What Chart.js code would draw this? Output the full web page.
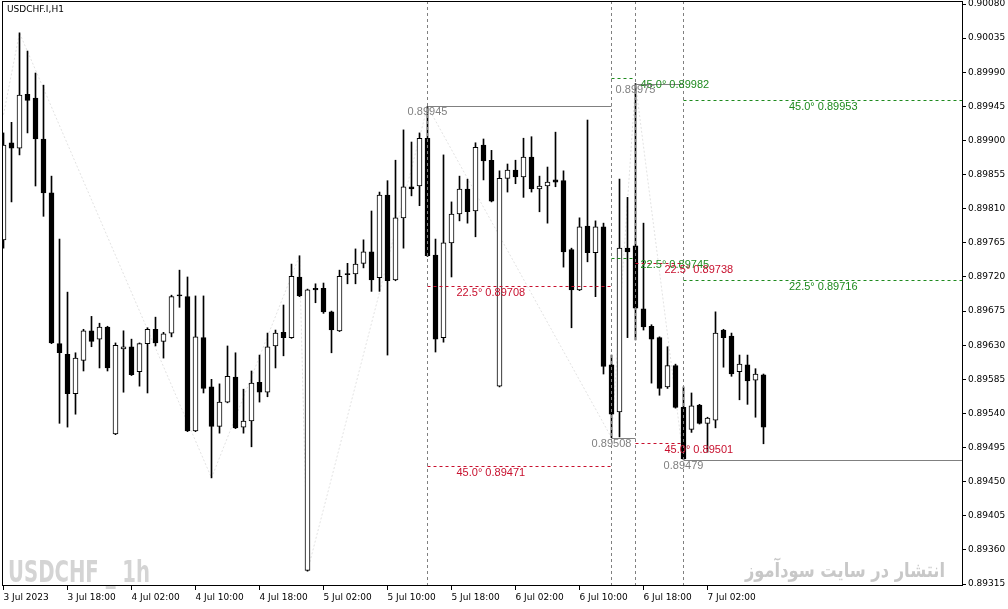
<!DOCTYPE html>
<html>
<head>
<meta charset="utf-8">
<script src="https://cdn.jsdelivr.net/npm/chart.js"></script>
<style>
  html, body { margin: 0; padding: 0; background: #fff; }
  #wrap { width: 1008px; height: 609px; }
</style>
</head>
<body>
<div id="wrap"><canvas id="chart" width="1008" height="609"></canvas></div>
<script>
// USDCHF.I H1 - one bar per hour, from 3 Jul 2023 10:00 to 7 Jul 2023 09:00
const opens = [
  0.89769, 0.89897, 0.89890, 0.89961, 0.89956, 0.89902, 0.89831, 0.89632, 0.89618, 0.89566,
  0.89610, 0.89649, 0.89638, 0.89654, 0.89513, 0.89625, 0.89628, 0.89595, 0.89632, 0.89651,
  0.89635, 0.89646, 0.89696, 0.89694, 0.89517, 0.89640, 0.89575, 0.89523, 0.89555, 0.89588,
  0.89522, 0.89530, 0.89581, 0.89568, 0.89629, 0.89647, 0.89640, 0.89720, 0.89333, 0.89705,
  0.89705, 0.89674, 0.89649, 0.89724, 0.89724, 0.89738, 0.89753, 0.89719, 0.89828, 0.89716,
  0.89798, 0.89839, 0.89840, 0.89903, 0.89749, 0.89640, 0.89765, 0.89803, 0.89836, 0.89807,
  0.89894, 0.89874, 0.89576, 0.89850, 0.89861, 0.89852, 0.89878, 0.89836, 0.89840, 0.89848,
  0.89847, 0.89756, 0.89703, 0.89787, 0.89752, 0.89786, 0.89604, 0.89542, 0.89758, 0.89761,
  0.89678, 0.89655, 0.89640, 0.89575, 0.89603, 0.89548, 0.89519, 0.89551, 0.89527, 0.89531,
  0.89650, 0.89642, 0.89595, 0.89604, 0.89584, 0.89591
];
const highs = [
  0.89910, 0.89924, 0.90042, 0.90018, 0.89989, 0.89973, 0.89853, 0.89770, 0.89700, 0.89620,
  0.89651, 0.89668, 0.89659, 0.89655, 0.89633, 0.89649, 0.89638, 0.89633, 0.89653, 0.89667,
  0.89647, 0.89696, 0.89729, 0.89720, 0.89695, 0.89695, 0.89585, 0.89579, 0.89629, 0.89620,
  0.89572, 0.89596, 0.89617, 0.89646, 0.89650, 0.89683, 0.89737, 0.89748, 0.89704, 0.89711,
  0.89712, 0.89675, 0.89729, 0.89738, 0.89757, 0.89769, 0.89807, 0.89832, 0.89847, 0.89874,
  0.89914, 0.89898, 0.89910, 0.89945, 0.89770, 0.89881, 0.89819, 0.89853, 0.89849, 0.89897,
  0.89902, 0.89887, 0.89860, 0.89869, 0.89874, 0.89903, 0.89905, 0.89853, 0.89865, 0.89911,
  0.89860, 0.89758, 0.89798, 0.89927, 0.89794, 0.89791, 0.89617, 0.89849, 0.89825, 0.89975,
  0.89791, 0.89657, 0.89641, 0.89628, 0.89605, 0.89575, 0.89567, 0.89552, 0.89535, 0.89674,
  0.89651, 0.89646, 0.89617, 0.89617, 0.89599, 0.89592
];
const lows = [
  0.89758, 0.89819, 0.89881, 0.89910, 0.89840, 0.89800, 0.89632, 0.89527, 0.89522, 0.89539,
  0.89596, 0.89628, 0.89600, 0.89596, 0.89512, 0.89568, 0.89590, 0.89576, 0.89567, 0.89629,
  0.89613, 0.89641, 0.89680, 0.89516, 0.89516, 0.89567, 0.89455, 0.89514, 0.89554, 0.89520,
  0.89514, 0.89496, 0.89555, 0.89562, 0.89600, 0.89616, 0.89639, 0.89694, 0.89332, 0.89686,
  0.89672, 0.89620, 0.89648, 0.89711, 0.89711, 0.89732, 0.89701, 0.89701, 0.89617, 0.89715,
  0.89758, 0.89827, 0.89814, 0.89747, 0.89621, 0.89634, 0.89720, 0.89794, 0.89791, 0.89773,
  0.89848, 0.89819, 0.89575, 0.89832, 0.89843, 0.89825, 0.89832, 0.89806, 0.89791, 0.89839,
  0.89733, 0.89653, 0.89702, 0.89740, 0.89694, 0.89592, 0.89508, 0.89509, 0.89640, 0.89637,
  0.89650, 0.89580, 0.89564, 0.89573, 0.89547, 0.89479, 0.89515, 0.89526, 0.89489, 0.89521,
  0.89601, 0.89589, 0.89558, 0.89552, 0.89535, 0.89500
];
const closes = [
  0.89894, 0.89890, 0.89960, 0.89953, 0.89902, 0.89831, 0.89633, 0.89620, 0.89566, 0.89613,
  0.89649, 0.89635, 0.89654, 0.89600, 0.89630, 0.89628, 0.89591, 0.89632, 0.89651, 0.89633,
  0.89645, 0.89694, 0.89695, 0.89517, 0.89641, 0.89573, 0.89523, 0.89555, 0.89589, 0.89521,
  0.89530, 0.89580, 0.89568, 0.89628, 0.89646, 0.89640, 0.89721, 0.89695, 0.89703, 0.89703,
  0.89674, 0.89650, 0.89721, 0.89723, 0.89737, 0.89753, 0.89716, 0.89828, 0.89715, 0.89798,
  0.89839, 0.89836, 0.89903, 0.89748, 0.89638, 0.89765, 0.89803, 0.89836, 0.89806, 0.89891,
  0.89873, 0.89820, 0.89850, 0.89861, 0.89852, 0.89878, 0.89836, 0.89840, 0.89845, 0.89845,
  0.89753, 0.89703, 0.89786, 0.89752, 0.89786, 0.89602, 0.89539, 0.89758, 0.89753, 0.89679,
  0.89654, 0.89638, 0.89573, 0.89603, 0.89548, 0.89480, 0.89550, 0.89527, 0.89534, 0.89646,
  0.89640, 0.89592, 0.89605, 0.89583, 0.89592, 0.89522
];

// axis ticks
const xTickIdx = [0, 8, 16, 24, 32, 40, 48, 56, 64, 72, 80, 88];
const xTickLabels = ['3 Jul 2023', '3 Jul 18:00', '4 Jul 02:00', '4 Jul 10:00', '4 Jul 18:00', '5 Jul 02:00',
  '5 Jul 10:00', '5 Jul 18:00', '6 Jul 02:00', '6 Jul 10:00', '6 Jul 18:00', '7 Jul 02:00'];
const yTicks = [0.89315, 0.89360, 0.89405, 0.89450, 0.89495, 0.89540, 0.89585, 0.89630, 0.89675,
  0.89720, 0.89765, 0.89810, 0.89855, 0.89900, 0.89945, 0.89990, 0.90035, 0.90080];

// zigzag (faint)
const zigIdx = [0, 2, 26, 37, 38, 53, 76, 79, 85];
const zigPrice = [0.89934, 0.90042, 0.89455, 0.89748, 0.89332, 0.89945, 0.89508, 0.89975, 0.89479];

// pivots and their angle levels
const pivotIdx = [53, 76, 79, 85];
const pivotEnd = [76, 79, 85, 130];
const pivotPrice = [0.89945, 0.89508, 0.89975, 0.89479];
const pivotIsHigh = [true, false, true, false];
const angleNames = ['22.5°', '45.0°'];
const level225 = [0.89708, 0.89745, 0.89738, 0.89716];
const level450 = [0.89471, 0.89982, 0.89501, 0.89953];

const RED = '#c8102e';
const GREEN = '#1e8a1e';
const GRAY = '#808080';

const overlay = {
  id: 'overlay',
  beforeDatasetsDraw(chart) {
    const ctx = chart.ctx;
    ctx.save();
    // watermark left
    ctx.fillStyle = '#d4d4d4';
    ctx.font = 'bold 30px "DejaVu Sans"';
    ctx.textBaseline = 'alphabetic';
    ctx.textAlign = 'left';
    let txt = 'USDCHF _ 1h';
    let w = ctx.measureText(txt).width;
    ctx.save();
    ctx.translate(8, 582);
    ctx.scale(142 / w, 1);
    ctx.fillText(txt, 0, 0);
    ctx.restore();
    // watermark right
    ctx.fillStyle = '#c8c8c8';
    ctx.font = 'bold 20px "DejaVu Sans"';
    txt = 'انتشار در سایت سودآموز';
    w = ctx.measureText(txt).width;
    ctx.save();
    ctx.translate(745, 577);
    ctx.scale(200 / w, 1);
    ctx.fillText(txt, 0, 0);
    ctx.restore();
    ctx.restore();
  },
  afterDatasetsDraw(chart) {
    const {ctx, chartArea: a, scales} = chart;
    const xs = scales.x, ys = scales.y;
    const px = v => Math.floor(xs.getPixelForValue(v)) + 0.5;
    const py = v => Math.round(ys.getPixelForValue(v)) + 0.5;
    ctx.save();
    ctx.lineWidth = 1;

    // vertical dashed lines at pivots
    ctx.strokeStyle = GRAY;
    ctx.setLineDash([3, 3]);
    pivotIdx.forEach(k => {
      ctx.beginPath();
      ctx.moveTo(px(k), a.top);
      ctx.lineTo(px(k), a.bottom + 3);
      ctx.stroke();
    });

    ctx.beginPath();
    ctx.rect(a.left, a.top, a.right - a.left, a.bottom - a.top);
    ctx.clip();

    pivotIdx.forEach((k, i) => {
      const x0 = px(k);
      const x1 = Math.min(px(pivotEnd[i]), a.right);
      // pivot price line
      ctx.setLineDash([]);
      ctx.strokeStyle = GRAY;
      ctx.beginPath();
      ctx.moveTo(x0, py(pivotPrice[i]));
      ctx.lineTo(x1, py(pivotPrice[i]));
      ctx.stroke();
      // angle levels
      const col = pivotIsHigh[i] ? RED : GREEN;
      ctx.setLineDash([3, 3]);
      ctx.strokeStyle = col;
      [level225[i], level450[i]].forEach(p => {
        ctx.beginPath();
        ctx.moveTo(x0, py(p));
        ctx.lineTo(x1, py(p));
        ctx.stroke();
      });
    });

    // labels
    ctx.font = '11px "Liberation Sans"';
    ctx.textBaseline = 'middle';
    pivotIdx.forEach((k, i) => {
      const x0 = px(k);
      ctx.fillStyle = GRAY;
      ctx.textAlign = 'center';
      ctx.fillText(pivotPrice[i].toFixed(5), x0, py(pivotPrice[i]) + 5);
      ctx.fillStyle = pivotIsHigh[i] ? RED : GREEN;
      const open = pivotEnd[i] > xs.max;
      [level225[i], level450[i]].forEach((p, j) => {
        const t = angleNames[j] + ' ' + p.toFixed(5);
        if (open) {
          ctx.textAlign = 'center';
          ctx.fillText(t, (x0 + a.right) / 2, py(p) + 6);
        } else {
          ctx.textAlign = 'left';
          ctx.fillText(t, x0 + 29, py(p) + 6);
        }
      });
    });
    ctx.restore();
  },
  afterDraw(chart) {
    const {ctx, chartArea: a} = chart;
    ctx.save();
    ctx.strokeStyle = '#000';
    ctx.lineWidth = 1;
    ctx.strokeRect(a.left + 0.5, a.top + 0.5, a.right - a.left - 1, a.bottom - a.top - 1);
    ctx.fillStyle = '#000';
    ctx.font = '9px "DejaVu Sans"';
    ctx.textAlign = 'left';
    ctx.textBaseline = 'middle';
    ctx.fillText('USDCHF.I,H1', 7, 10);
    ctx.restore();
  }
};

const axisFont = { family: 'DejaVu Sans', size: 9 };

new Chart(document.getElementById('chart'), {
  type: 'bar',
  data: {
    datasets: [
      {
        label: 'body',
        order: 0,
        grouped: false,
        barThickness: 5,
        minBarLength: 1,
        borderWidth: 1,
        borderSkipped: false,
        borderColor: '#000',
        backgroundColor: opens.map((o, i) => closes[i] >= o ? '#fff' : '#000'),
        data: opens.map((o, i) => ({ x: i, y: [o, closes[i]] }))
      },
      {
        label: 'wick',
        order: 1,
        grouped: false,
        barThickness: 1,
        borderWidth: 0,
        backgroundColor: '#000',
        data: lows.map((l, i) => ({ x: i, y: [l, highs[i]] }))
      },
      {
        type: 'line',
        label: 'zigzag',
        order: 2,
        borderColor: '#e2e2e2',
        borderWidth: 1,
        borderDash: [2, 2],
        pointRadius: 0,
        data: zigIdx.map((k, i) => ({ x: k, y: zigPrice[i] }))
      }
    ]
  },
  options: {
    responsive: false,
    animation: false,
    events: [],
    layout: { padding: { left: 2, top: 1, right: 0, bottom: 0 } },
    plugins: { legend: { display: false }, tooltip: { enabled: false } },
    scales: {
      x: {
        type: 'linear',
        offset: false,
        min: -0.1875,
        max: 119.9375,
        afterBuildTicks: s => { s.ticks = xTickIdx.map(v => ({ value: v })); },
        afterFit: s => { s.height = 23; s.paddingLeft = 0; s.paddingRight = 0; },
        grid: { offset: false, drawOnChartArea: false, tickLength: 4, color: '#000' },
        border: { display: false },
        ticks: {
          autoSkip: false, maxRotation: 0, align: 'start', padding: 2, color: '#000', font: axisFont,
          callback: v => xTickLabels[xTickIdx.indexOf(v)]
        }
      },
      y: {
        position: 'right',
        min: 0.893124,
        max: 0.900840,
        afterBuildTicks: s => { s.ticks = yTicks.map(v => ({ value: v })); },
        afterFit: s => { s.width = 45; s.paddingTop = 0; s.paddingBottom = 0; },
        grid: { drawOnChartArea: false, tickLength: 3, color: '#000' },
        border: { display: false },
        ticks: { padding: 2, color: '#000', font: axisFont, callback: v => v.toFixed(5) }
      }
    }
  },
  plugins: [overlay]
});
</script>
</body>
</html>
